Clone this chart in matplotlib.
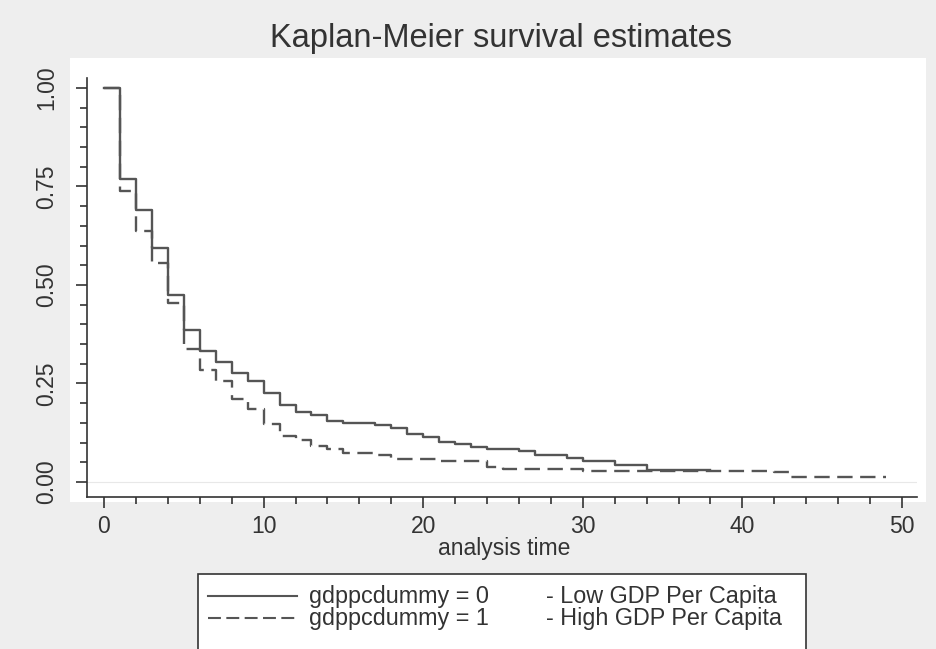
import numpy as np
import matplotlib
matplotlib.use("Agg")
import matplotlib.pyplot as plt
from matplotlib.lines import Line2D
from matplotlib.patches import Rectangle
from matplotlib.ticker import MultipleLocator

plt.rcParams['font.family'] = ['Liberation Sans', 'DejaVu Sans']

# Kaplan-Meier estimates (step changes, post)
low_time = [0, 1, 2, 3, 4, 5, 6, 7, 8, 9, 10, 11, 12, 13, 14, 15, 17, 18, 19, 20,
            21, 22, 23, 24, 26, 27, 29, 30, 32, 34, 38]
low_surv = [1.0, 0.769, 0.690, 0.594, 0.475, 0.385, 0.333, 0.305, 0.276, 0.256,
            0.225, 0.195, 0.178, 0.169, 0.155, 0.149, 0.144, 0.136, 0.121, 0.115,
            0.101, 0.096, 0.088, 0.084, 0.079, 0.069, 0.060, 0.054, 0.043, 0.030, 0.030]

high_time = [0, 1, 2, 3, 4, 5, 6, 7, 8, 9, 10, 11, 12, 13, 14, 15, 17, 18, 21, 24,
             25, 30, 42, 43, 49]
high_surv = [1.0, 0.739, 0.637, 0.556, 0.454, 0.338, 0.284, 0.256, 0.211, 0.185,
             0.146, 0.117, 0.107, 0.091, 0.083, 0.074, 0.069, 0.058, 0.054, 0.039,
             0.032, 0.029, 0.025, 0.0135, 0.0135]

group_labels = ["gdppcdummy = 0", "gdppcdummy = 1"]
group_desc = ["- Low GDP Per Capita", "- High GDP Per Capita"]

W, H = 936, 649
line_col = '#555555'
axis_col = '#333333'
fs = 16.5

fig = plt.figure(figsize=(W / 100, H / 100), dpi=100, facecolor='#eeeeee')

# white plot region
fig.add_artist(Rectangle((70 / W, 1 - 502 / H), (926 - 70) / W, (502 - 58) / H,
                         transform=fig.transFigure, facecolor='white',
                         edgecolor='none', zorder=0))

ax = fig.add_axes([87 / W, 1 - 497 / H, 830 / W, 419 / H])
ax.set_facecolor('none')

ax.axhline(0, color='#e8e8e8', lw=0.8, zorder=1)
ax.step(low_time, low_surv, where='post', color=line_col, lw=1.7, zorder=3)
ax.step(high_time, high_surv, where='post', color=line_col, lw=1.7,
        dashes=(6.5, 3.2), zorder=2)

ax.set_xlim(-1.065, 50.94)
ax.set_ylim(-0.038, 1.025)

ax.spines['top'].set_visible(False)
ax.spines['right'].set_visible(False)
for s in ('left', 'bottom'):
    ax.spines[s].set_color(axis_col)
    ax.spines[s].set_linewidth(1.2)

ax.xaxis.set_major_locator(MultipleLocator(10))
ax.xaxis.set_minor_locator(MultipleLocator(2))
ax.set_yticks([0, 0.25, 0.5, 0.75, 1.0])
ax.set_yticklabels(["0.00", "0.25", "0.50", "0.75", "1.00"])
ax.yaxis.set_minor_locator(MultipleLocator(0.05))

ax.tick_params(which='major', length=8, width=1.2, color=axis_col,
               labelsize=fs, labelcolor=axis_col, pad=5)
ax.tick_params(which='minor', length=5, width=1.2, color=axis_col)
ax.tick_params(axis='y', labelrotation=90, pad=13)
for lab in ax.get_yticklabels():
    lab.set_va('center')

fig.text(501.5 / W, 1 - 38 / H, "Kaplan-Meier survival estimates",
         ha='center', va='center', fontsize=23.5, color=axis_col)
fig.text(504 / W, 1 - 549 / H, "analysis time", ha='center', va='center',
         fontsize=fs, color=axis_col)

# legend box (runs off the bottom of the figure)
fig.add_artist(Rectangle((198 / W, -20 / H), (806 - 198) / W, (649 - 574 + 20) / H,
                         transform=fig.transFigure, facecolor='white',
                         edgecolor=axis_col, lw=1.2, zorder=5))
key_y = [596, 618]
key_style = [dict(), dict(dashes=(6.2, 2.6))]
for i in range(2):
    fig.add_artist(Line2D([208 / W, 297 / W], [1 - key_y[i] / H] * 2,
                          transform=fig.transFigure, color=line_col, lw=1.5,
                          zorder=6, **key_style[i]))
    fig.text(309 / W, 1 - key_y[i] / H, group_labels[i], ha='left', va='center',
             fontsize=fs + 0.3, color=axis_col, zorder=6)
    fig.text(546 / W, 1 - key_y[i] / H, group_desc[i], ha='left', va='center',
             fontsize=fs + 0.3, color=axis_col, zorder=6)

fig.savefig("out.png", dpi=100, facecolor=fig.get_facecolor())
